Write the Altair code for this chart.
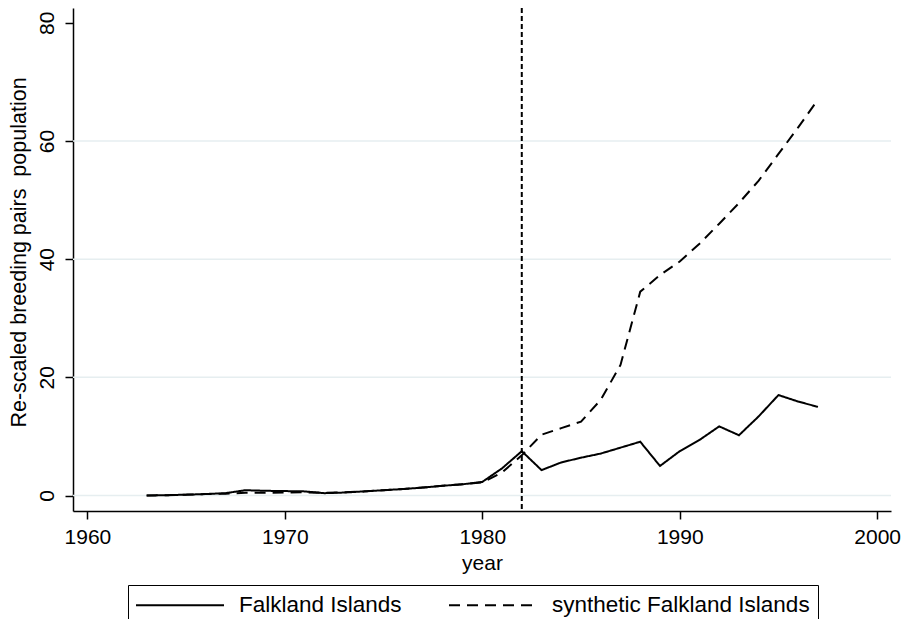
import altair as alt
import pandas as pd

years = list(range(1963, 1998))
falkland = [0.0, 0.05, 0.15, 0.25, 0.4, 0.9, 0.8, 0.75, 0.7, 0.4,
            0.5, 0.7, 0.9, 1.1, 1.35, 1.65, 1.9, 2.3, 4.6, 7.5,
            4.3, 5.6, 6.4, 7.1, 8.1, 9.1, 5.0, 7.5, 9.4, 11.7,
            10.2, 13.4, 17.0, 15.9, 15.0]
synthetic = [0.0, 0.05, 0.15, 0.25, 0.3, 0.45, 0.45, 0.5, 0.55, 0.45,
             0.55, 0.7, 0.9, 1.1, 1.35, 1.65, 1.9, 2.2, 3.9, 6.8,
             10.3, 11.4, 12.5, 16.2, 22.1, 34.5, 37.3, 39.6, 42.6, 46.0,
             49.5, 53.3, 57.8, 62.3, 67.0]
series_names = ["Falkland Islands", "synthetic Falkland Islands"]
x_ticks = [1960, 1970, 1980, 1990, 2000]
y_ticks = [0, 20, 40, 60, 80]
grid_values = [0, 20, 40, 60]
treatment_year = [1982]
x_title = "year"
y_title = "Re-scaled breeding pairs\u00a0 population"

df = pd.DataFrame({
    "year": years + years,
    "value": falkland + synthetic,
    "series": [series_names[0]] * len(years) + [series_names[1]] * len(years),
})

FONT = "Liberation Sans"
x_scale = alt.Scale(domain=[1959.27, 2000.7], nice=False, zero=False)
y_scale = alt.Scale(domain=[-2.62, 82.5], nice=False, zero=False)

x_axis = alt.Axis(values=x_ticks, format="d", title=x_title,
                  labelFontSize=21, titleFontSize=21,
                  titleFontWeight="normal", labelPadding=7,
                  titlePadding=5, tickSize=8, grid=False)
y_axis = alt.Axis(values=y_ticks, format="d", title=y_title,
                  labelFontSize=21, titleFontSize=21.5,
                  titleFontWeight="normal", labelAngle=270,
                  labelAlign="center", labelBaseline="bottom",
                  labelPadding=8, titlePadding=6, tickSize=8,
                  titleY=244, grid=False)

grid = alt.Chart(pd.DataFrame({"g": grid_values})).mark_rule(
    color="#e6eef0", strokeWidth=1.5
).encode(y=alt.Y("g:Q", scale=y_scale, axis=y_axis, title=y_title))

vline = alt.Chart(pd.DataFrame({"yr": treatment_year})).mark_rule(
    color="black", strokeWidth=2, strokeDash=[5, 3]
).encode(x=alt.X("yr:Q", scale=x_scale, axis=x_axis, title=x_title))

lines = alt.Chart(df).mark_line(color="black", strokeWidth=2).encode(
    x=alt.X("year:Q", scale=x_scale, axis=x_axis, title=x_title),
    y=alt.Y("value:Q", scale=y_scale, axis=y_axis, title=y_title),
    strokeDash=alt.StrokeDash(
        "series:N",
        scale=alt.Scale(domain=series_names, range=[[1, 0], [11, 7]]),
        legend=alt.Legend(title=None, orient="none", legendX=55, legendY=577,
                          direction="horizontal", symbolType="M-4,0H4",
                          symbolSize=484, symbolStrokeWidth=2,
                          symbolOffset=32,
                          symbolStrokeColor="black", labelFontSize=22.5,
                          labelColor="black", labelOffset=47, labelLimit=500,
                          columnPadding=43, padding=8, strokeColor="black",
                          fillColor="white"),
    ),
    order="year:Q",
)

chart = alt.layer(grid, vline, lines).properties(
    width=818, height=503,
    autosize=alt.AutoSizeParams(type="none"),
    padding={"left": 65, "top": 0, "right": 10, "bottom": 108},
).configure(font=FONT).configure_view(stroke=None).configure_axis(
    domainColor="black", domainWidth=1.5, tickColor="black", tickWidth=1.5,
    labelColor="black", titleColor="black", labelFont=FONT, titleFont=FONT,
).configure_legend(labelFont=FONT)

chart.save("out.html", embed_options={"renderer": "svg", "actions": False})
